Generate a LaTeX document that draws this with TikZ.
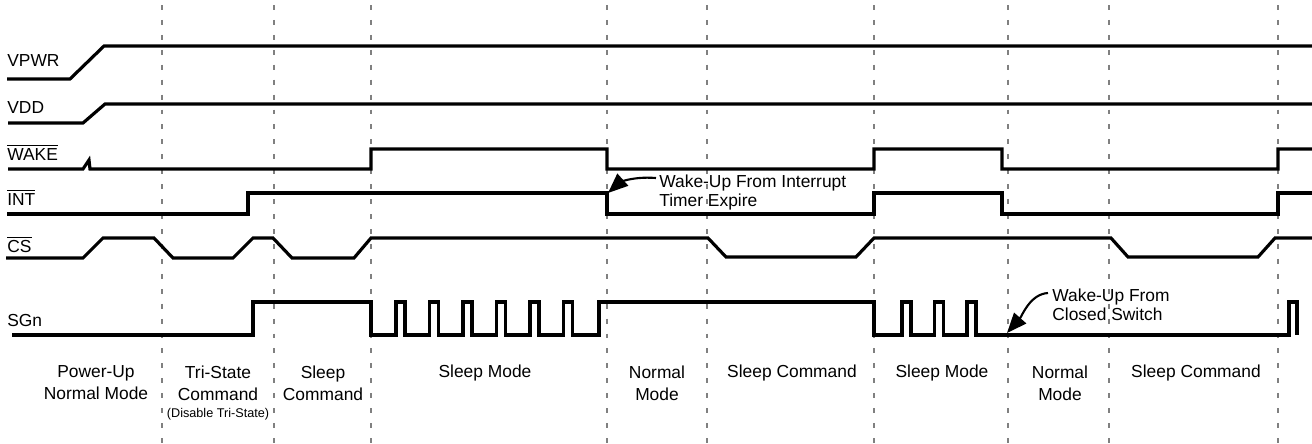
\documentclass[tikz,border=0pt]{standalone}
\usepackage{fontspec}
\setmainfont{Liberation Sans}
\usetikzlibrary{arrows.meta,calc}

\newcommand{\negsig}[1]{$\overline{\mbox{#1}}$}

\begin{document}
\begin{tikzpicture}[
    x=0.02cm, y=-0.02cm,
    signame/.style={
        anchor=base west,
        inner sep=0pt,
        font=\fontsize{9.9}{12}\selectfont
    },
    wave/.style={
        line width=1.8pt,
        line join=miter
    },
    phase/.style={
        align=center,
        inner sep=0pt,
        font=\fontsize{9.9}{12.5}\selectfont
    },
    note/.style={
        anchor=west,
        align=left,
        inner sep=0pt,
        font=\fontsize{9.9}{10.8}\selectfont
    },
    callout/.style={
        -{Triangle[length=4mm,width=3.2mm]},
        line width=1.2pt
    },
    divider/.style={
        draw=gray,
        line width=1.5pt,
        dash pattern=on 2.8pt off 5.7pt
    }
]
    \useasboundingbox (0,0) rectangle (1312,443);

    % phase boundaries
    \foreach \x in {162,274,371,607,707,874,1008,1109,1278}
        \draw[divider] (\x,5) -- (\x,443);

    % signal names
    \node[signame] (vpwr) at (7,66) {VPWR};
    \node[signame] (vdd) at (7,113) {VDD};
    \node[signame] (wake) at (7,160) {\negsig{WAKE}};
    \node[signame] (int) at (7,205) {\negsig{INT}};
    \node[signame] (cs) at (7,252) {\negsig{CS}};
    \node[signame] (sgn) at (7,326) {SGn};

    % waveforms
    \draw[wave] (7,79) -- (70,79) -- (104,46) -- (1312,46);
    \draw[wave] (8,123) -- (83,123) -- (105,104) -- (1312,104);
    \draw[wave] (8,169) -- (83,169) -- (89,160) -- (90,169) -- (371,169) -- (371,149)
        -- (607,149) -- (607,169) -- (874,169) -- (874,149) -- (1002,149) -- (1002,169)
        -- (1278,169) -- (1278,149) -- (1312,149);
    \draw[wave] (7,214) -- (248,214) -- (248,193) -- (607,193) -- (607,214) -- (874,214)
        -- (874,193) -- (1002,193) -- (1002,214) -- (1278,214) -- (1278,193) -- (1312,193);
    \draw[wave] (6,258) -- (83,258) -- (103,238) -- (154,238) -- (173,258) -- (233,258)
        -- (253,238) -- (273,238) -- (292,258) -- (354,258) -- (371,238) -- (708,238)
        -- (726,257) -- (856,257) -- (874,238) -- (1111,238) -- (1128,257) -- (1258,257)
        -- (1275,238) -- (1312,238);
    \draw[wave] (12,335) -- (253,335) -- (253,302) -- (371,302) -- (371,335)
        foreach \p in {396,429.5,463,496.5,530,563.5} { -- (\p,335) -- (\p,302) -- (\p+9,302) -- (\p+9,335) }
        -- (599,335) -- (599,302) -- (874,302) -- (874,335)
        foreach \p in {902,934.5,967} { -- (\p,335) -- (\p,302) -- (\p+9,302) -- (\p+9,335) }
        -- (1289,335) -- (1289,302) -- (1297,302) -- (1297,335);

    % wake-up notes
    \node[note] (wakeint) at (659,192.5) {Wake-Up From Interrupt\\Timer Expire};
    \coordinate (inttip) at (608,193);
    \draw[callout] ([xshift=-0.06cm,yshift=0.29cm]wakeint.west) .. controls (630,176) and (618,184) .. (inttip);

    \node[note] (wakesw) at (1052,304.5) {Wake-Up From\\Closed Switch};
    \coordinate (swtip) at (1007,333);
    \draw[callout] ([xshift=-0.08cm,yshift=0.23cm]wakesw.west) .. controls (1030,294) and (1022,316) .. (swtip);

    % phase labels
    \node[phase] (pwrup) at (96,383) {Power-Up\\Normal Mode};
    \node[phase] (tristate) at (218,383) {Tri-State\\Command};
    \node[phase, font=\fontsize{7.2}{8}\selectfont] (tristatenote) at (218,414) {(Disable Tri-State)};
    \node[phase] (sleepcmda) at (323,383) {Sleep\\Command};
    \node[phase] (sleepmodea) at (485,373) {Sleep Mode};
    \node[phase] (normala) at (657,383) {Normal\\Mode};
    \node[phase] (sleepcmdb) at (792,373) {Sleep Command};
    \node[phase] (sleepmodeb) at (942,373) {Sleep Mode};
    \node[phase] (normalb) at (1060,383) {Normal\\Mode};
    \node[phase] (sleepcmdc) at (1196,373) {Sleep Command};
\end{tikzpicture}
\end{document}
